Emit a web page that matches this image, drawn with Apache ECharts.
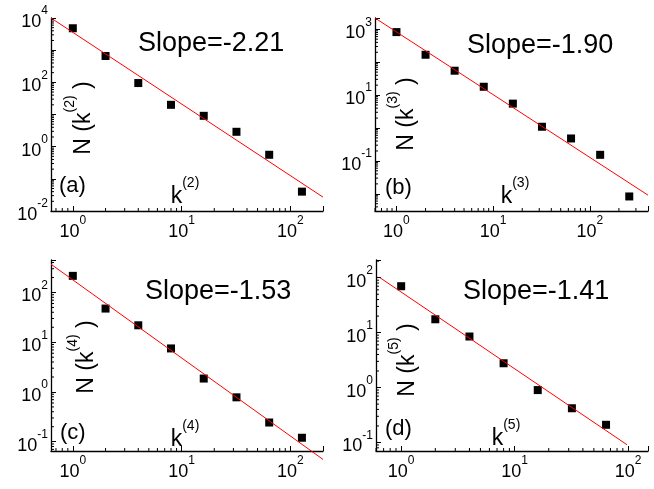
<!DOCTYPE html>
<html>
<head>
<meta charset="utf-8">
<script src="https://cdn.jsdelivr.net/npm/echarts@6/dist/echarts.min.js"></script>
<style>
  html, body { margin: 0; background: #fff; }
  #chart { width: 654px; height: 489px; }
</style>
</head>
<body>
<div id="chart"></div>
<script>
// values
const kA = [1, 2, 4, 8, 16, 32, 64, 128];
const nA = [4800, 660, 95, 20, 9.1, 2.9, 0.56, 0.040];
const kB = [1, 2, 4, 8, 16, 32, 64, 128, 256];
const nB = [820, 168, 55, 17.9, 5.5, 1.09, 0.48, 0.153, 0.0083];
const kC = [1, 2, 4, 8, 16, 32, 64, 128];
const nC = [216, 47.5, 21.9, 7.5, 1.86, 0.78, 0.243, 0.12];
const kD = [1, 2, 4, 8, 16, 32, 64];
const nD = [70, 17.5, 8.5, 2.77, 0.90, 0.42, 0.21];

// fitted lines, end points
const fitA = [[0.63, 10000], [200, 0.027]];
const fitB = [[0.6, 2200], [400, 0.0091]];
const fitC = [[0.63, 370], [200, 0.044]];
const fitD = [[0.65, 100], [98, 0.091]];

const slopes = ['Slope=-2.21', 'Slope=-1.90', 'Slope=-1.53', 'Slope=-1.41'];
const tags = ['(a)', '(b)', '(c)', '(d)'];
const orders = ['2', '3', '4', '5'];

// axis ranges and labelled decades
const xRanges = [[0.63, 200], [0.6, 400], [0.63, 200], [0.6, 150]];
const yRanges = [[0.01, 10000], [0.003, 2200], [0.065, 450], [0.07, 210]];
const xLabelExps = [0, 1, 2];
const yLabelExps = [[-2, 0, 2, 4], [-1, 1, 3], [-1, 0, 1, 2], [-1, 0, 1, 2]];
const minorSteps = [2, 3, 4, 5, 6, 7, 8, 9];

const FONT = '"Liberation Sans", Arial, sans-serif';
const grids = [
  { left: 51, top: 18, width: 272, height: 193 },
  { left: 375, top: 18, width: 273, height: 193 },
  { left: 51, top: 260, width: 272, height: 191 },
  { left: 376, top: 260, width: 272, height: 191 }
].map(g => Object.assign(g, { outerBoundsMode: 'none', containLabel: false }));
const slopePos = [[138, 45], [467, 47], [145, 293], [463, 293]];
const tagPos = [[59, 188], [385, 190], [60, 435], [385, 431]];
const yNamePos = [[79, 118], [402, 114], [82, 357], [403, 360]];
const xNamePos = [[185, 192], [515, 192], [185, 435], [506, 434]];

const ks = [kA, kB, kC, kD];
const ns = [nA, nB, nC, nD];
const fits = [fitA, fitB, fitC, fitD];

const chart = echarts.init(document.getElementById('chart'));

function minorValues(range) {
  const out = [];
  const e0 = Math.floor(Math.log10(range[0]));
  const e1 = Math.ceil(Math.log10(range[1]));
  for (let e = e0; e <= e1; e++) {
    minorSteps.forEach(m => {
      const v = m * Math.pow(10, e);
      if (v > range[0] && v < range[1]) out.push(v);
    });
  }
  return out;
}

function powLabel(exps) {
  return function (v) {
    const lg = Math.log10(v);
    const e = Math.round(lg);
    if (Math.abs(lg - e) > 1e-6 || exps.indexOf(e) < 0) return '';
    return '{b|10}{s|' + e + '}';
  };
}

const labelRich = {
  b: { fontFamily: FONT, fontSize: 18, fill: '#000', color: '#000', lineHeight: 26, verticalAlign: 'bottom' },
  s: { fontFamily: FONT, fontSize: 12, fill: '#000', color: '#000', lineHeight: 12, verticalAlign: 'top' }
};
const nameRich = {
  b: { fontFamily: FONT, fontSize: 23, fill: '#000', lineHeight: 32, verticalAlign: 'bottom' },
  s: { fontFamily: FONT, fontSize: 14, fill: '#000', lineHeight: 14, verticalAlign: 'top' }
};

const axisCommon = {
  type: 'log',
  logBase: 10,
  axisLine: { show: true, lineStyle: { color: '#000', width: 1.3 } },
  axisTick: { show: true, inside: true, length: 5, lineStyle: { color: '#000', width: 1 } },
  splitLine: { show: false },
  minorTick: { show: false }
};

const xAxis = [], yAxis = [], series = [], graphic = [];

for (let i = 0; i < 4; i++) {
  xAxis.push(Object.assign({}, axisCommon, {
    gridIndex: i,
    min: xRanges[i][0],
    max: xRanges[i][1],
    axisLabel: { margin: 4, formatter: powLabel(xLabelExps), rich: labelRich }
  }));
  yAxis.push(Object.assign({}, axisCommon, {
    gridIndex: i,
    min: yRanges[i][0],
    max: yRanges[i][1],
    axisLabel: { margin: 3, formatter: powLabel(yLabelExps[i]), rich: labelRich }
  }));

  series.push({
    type: 'line',
    xAxisIndex: i,
    yAxisIndex: i,
    data: fits[i],
    showSymbol: false,
    clip: false,
    lineStyle: { color: '#ff0000', width: 1 },
    silent: true
  });
  series.push({
    type: 'scatter',
    xAxisIndex: i,
    yAxisIndex: i,
    data: ks[i].map((k, j) => [k, ns[i][j]]),
    symbol: 'rect',
    symbolSize: 8,
    itemStyle: { color: '#000', opacity: 1 },
    silent: true
  });

  // minor ticks (Origin style: 2..9 in every decade)
  const xr = xRanges[i], yr = yRanges[i];
  const minorData = minorValues(xr).map(v => [v, yr[0], 0])
    .concat(minorValues(yr).map(v => [xr[0], v, 1]));
  series.push({
    type: 'custom',
    xAxisIndex: i,
    yAxisIndex: i,
    silent: true,
    data: minorData,
    renderItem: function (params, api) {
      const p = api.coord([api.value(0), api.value(1)]);
      const vertical = api.value(2) === 1;
      return {
        type: 'line',
        shape: vertical
          ? { x1: p[0], y1: p[1], x2: p[0] + 3, y2: p[1] }
          : { x1: p[0], y1: p[1], x2: p[0], y2: p[1] - 3 },
        style: { stroke: '#000', lineWidth: 1 }
      };
    }
  });

  graphic.push({
    type: 'text',
    left: slopePos[i][0],
    top: slopePos[i][1] - 15,
    style: { text: slopes[i], fontFamily: FONT, fontSize: 27, fill: '#000' }
  });
  graphic.push({
    type: 'text',
    left: tagPos[i][0],
    top: tagPos[i][1] - 13,
    style: { text: tags[i], fontFamily: FONT, fontSize: 22, fill: '#000' }
  });
  // axis titles
  graphic.push({
    type: 'text',
    x: xNamePos[i][0],
    y: xNamePos[i][1],
    style: {
      text: '{b|k}{s|(' + orders[i] + ')}',
      rich: nameRich, align: 'center', verticalAlign: 'middle'
    }
  });
  graphic.push({
    type: 'text',
    x: yNamePos[i][0],
    y: yNamePos[i][1],
    rotation: Math.PI / 2,
    style: {
      text: '{b|N (k}{s|(' + orders[i] + ')}{b| )}',
      rich: nameRich, align: 'center', verticalAlign: 'middle'
    }
  });
}

chart.setOption({
  animation: false,
  backgroundColor: '#fff',
  grid: grids,
  xAxis: xAxis,
  yAxis: yAxis,
  series: series,
  graphic: graphic
});
</script>
</body>
</html>
